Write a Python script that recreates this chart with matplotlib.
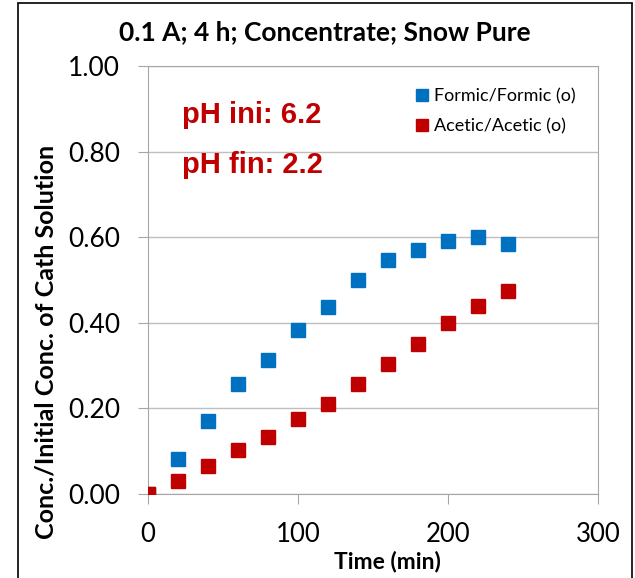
import matplotlib
matplotlib.use("Agg")
import matplotlib.pyplot as plt
from matplotlib.lines import Line2D

# datos
tiempo = [0, 20, 40, 60, 80, 100, 120, 140, 160, 180, 200, 220, 240]
formico = [0.0, 0.082, 0.170, 0.256, 0.313, 0.383, 0.438, 0.501, 0.546, 0.569, 0.591, 0.600, 0.583]
acetico = [0.0, 0.030, 0.065, 0.103, 0.133, 0.176, 0.211, 0.256, 0.303, 0.350, 0.399, 0.440, 0.474]

etiquetas = ["Formic/Formic (o)", "Acetic/Acetic (o)"]
titulo = "0.1 A; 4 h; Concentrate; Snow Pure"
ph_textos = ["pH ini: 6.2", "pH fin: 2.2"]

azul = "#0070C0"
rojo = "#C00000"
gris = "#A6A6A6"

plt.rcParams['font.family'] = ['Lato', 'DejaVu Sans']

fig = plt.figure(figsize=(6.35, 5.78), dpi=100)
ax = fig.add_axes([148/635, 1-494/578, 450/635, 428/578])

ax.plot(tiempo, formico, 's', color=azul, markersize=9.5, label=etiquetas[0], zorder=3)
ax.plot(tiempo, acetico, 's', color=rojo, markersize=9.5, label=etiquetas[1], zorder=4)

ax.set_xlim(0, 300)
ax.set_ylim(0, 1.0)
ax.set_xticks([0, 100, 200, 300])
ax.set_yticks([0, 0.2, 0.4, 0.6, 0.8, 1.0])
ax.set_yticklabels([f"{v:.2f}" for v in ax.get_yticks()])
ax.yaxis.grid(True, color="#BFBFBF", linewidth=1)
ax.set_axisbelow(True)
for s in ax.spines.values():
    s.set_color(gris)
ax.tick_params(axis='both', colors=gris, labelcolor='black', length=7)
ax.tick_params(axis='x', pad=13, labelsize=18.5)
ax.tick_params(axis='y', pad=13, labelsize=19)

# textos de pH
ax.text(0.075, 0.886, ph_textos[0], transform=ax.transAxes, color=rojo, fontsize=21,
        fontweight='bold', family='Liberation Sans', va='center')
ax.text(0.075, 0.768, ph_textos[1], transform=ax.transAxes, color=rojo, fontsize=21,
        fontweight='bold', family='Liberation Sans', va='center')

ax.legend(loc='upper left', bbox_to_anchor=(0.56, 0.985), frameon=False, fontsize=13,
          handlelength=0.6, handletextpad=0.4, labelspacing=0.75, markerscale=0.9)

fig.text(325/635, 1-32/578, titulo, ha='center', va='center', fontsize=19, fontweight='bold')
fig.text(387/635, 1-562/578, "Time (min)", ha='center', va='center', fontsize=16.5, fontweight='bold')
fig.text(46/635, 1-342/578, "Conc./Initial Conc. of Cath Solution", ha='center', va='center',
         rotation=90, fontsize=18, fontweight='bold')

# marco exterior
fig.add_artist(Line2D([18/635, 18/635], [0, 1-4/578], color='black', linewidth=1.2, transform=fig.transFigure))
fig.add_artist(Line2D([632/635, 632/635], [0, 1-4/578], color='black', linewidth=1.2, transform=fig.transFigure))
fig.add_artist(Line2D([18/635, 632/635], [1-3/578, 1-3/578], color='black', linewidth=1.2, transform=fig.transFigure))

fig.savefig("out.png", dpi=100)
